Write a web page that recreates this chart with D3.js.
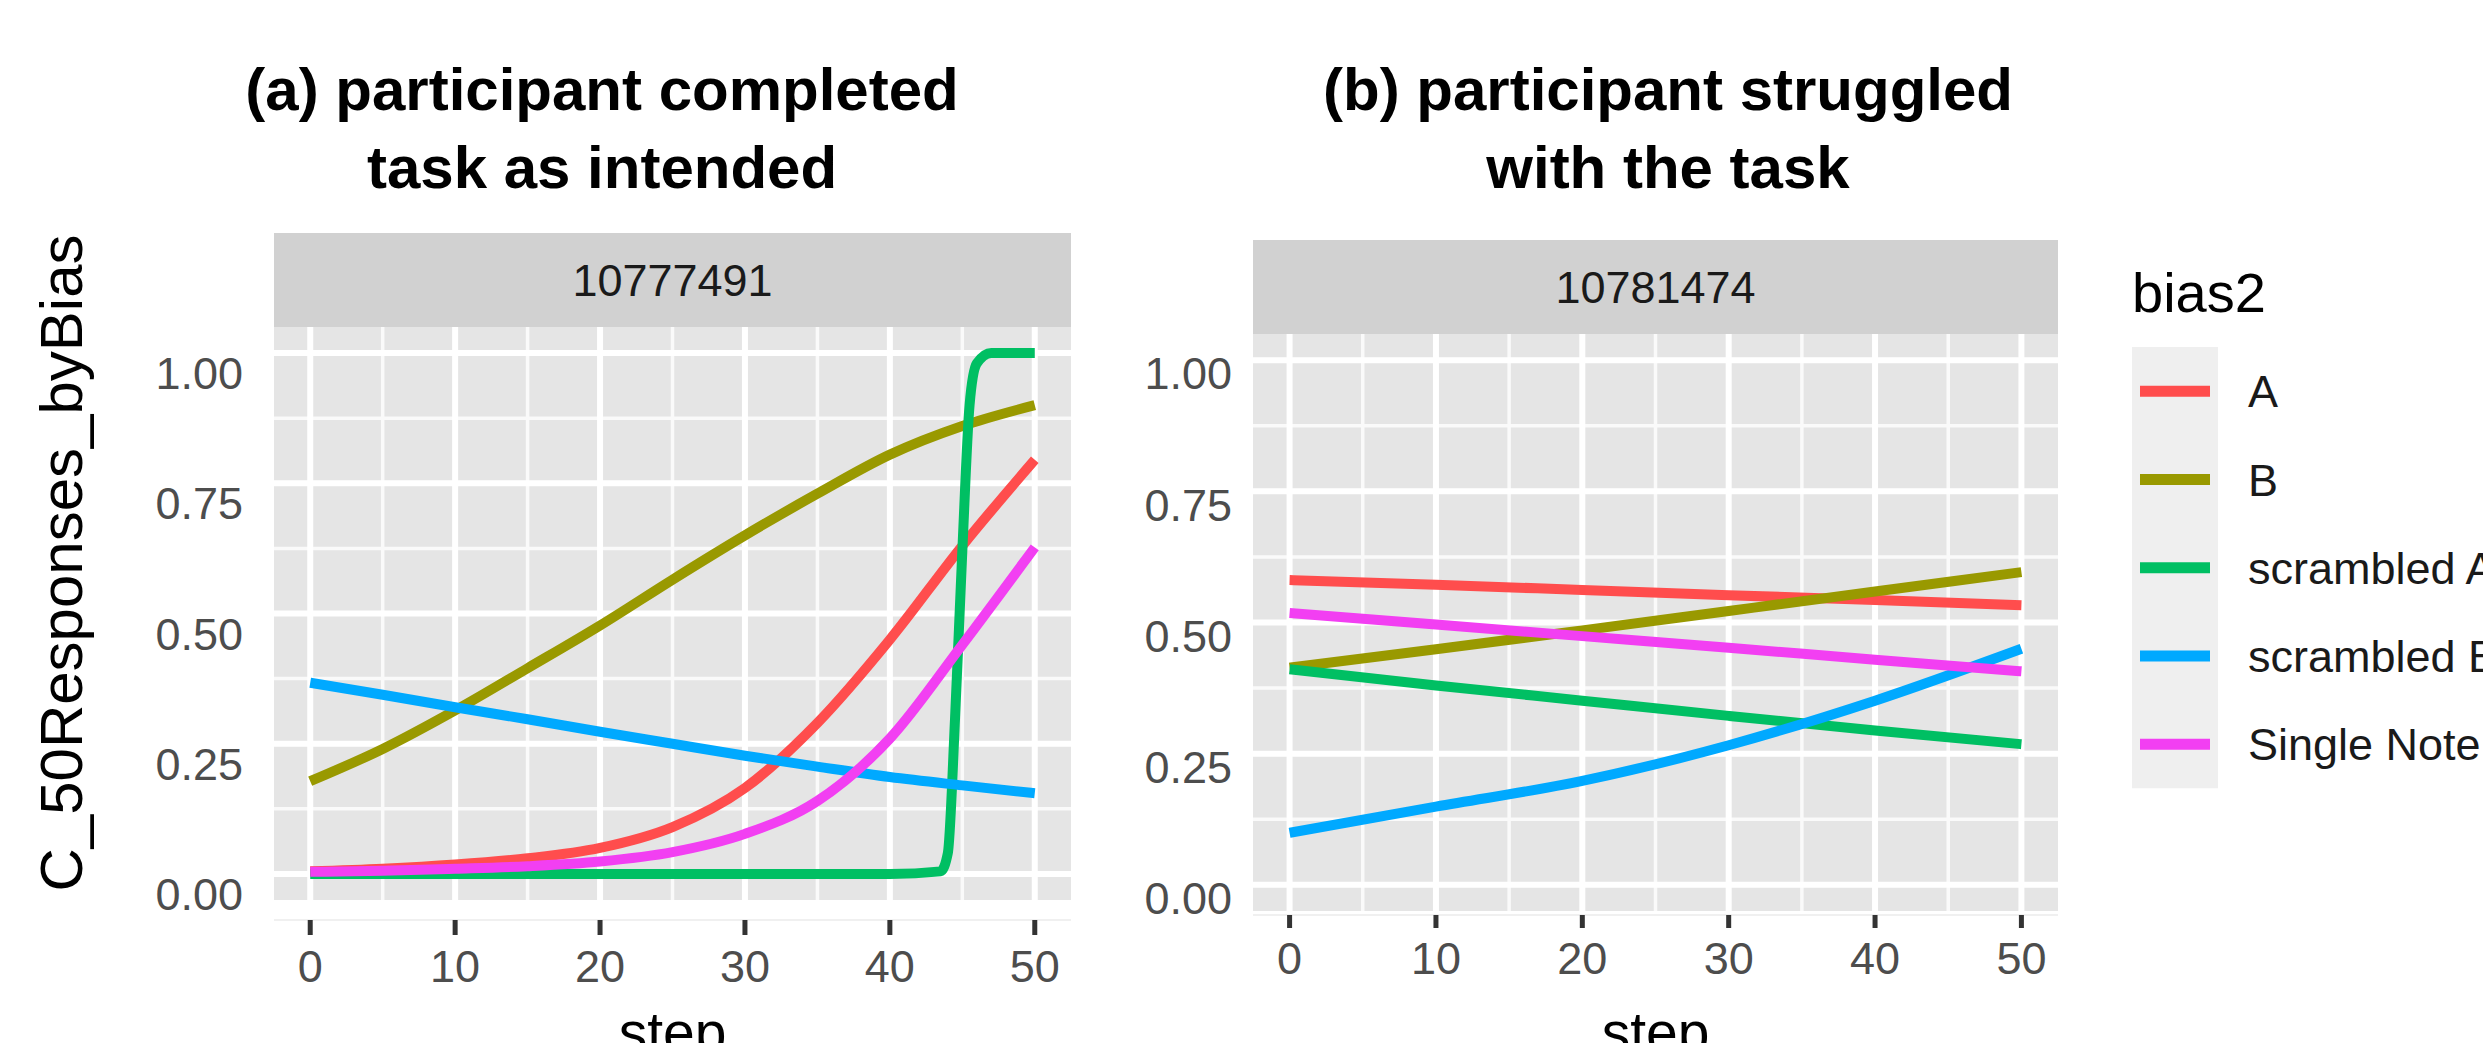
<!DOCTYPE html>
<html><head><meta charset="utf-8">
<script src="https://cdn.jsdelivr.net/npm/d3@7"></script>
<style>body{margin:0;background:#fff;} svg{display:block;}</style>
</head><body>
<svg id="chart" width="2483" height="1043"></svg>
<script>
// ---------- data ----------
const seriesNames = ["A", "B", "scrambled A", "scrambled B", "Single Note"];
const seriesColors = ["#ff4d4d", "#999900", "#00bf63", "#00a9ff", "#f23ff2"];
const xTicks = [0, 10, 20, 30, 40, 50];
const yTicks = [0, 0.25, 0.5, 0.75, 1];
const yTickLabels = ["0.00", "0.25", "0.50", "0.75", "1.00"];
const panelIds = ["10777491", "10781474"];
const titleA = ["(a) participant completed", "task as intended"];
const titleB = ["(b) participant struggled", "with the task"];
const xTitle = "step";
const yTitle = "C_50Responses_byBias";
const legendTitle = "bias2";

// panel (a) 10777491
const stepsA = [0, 5, 10, 15, 20, 25, 30, 35, 40, 45, 50];
const a_A  = [0.005, 0.010, 0.018, 0.030, 0.050, 0.090, 0.165, 0.290, 0.450, 0.630, 0.795];
const a_B  = [0.178, 0.240, 0.314, 0.395, 0.477, 0.565, 0.650, 0.730, 0.805, 0.860, 0.900];
const a_sB = [0.367, 0.344, 0.320, 0.297, 0.273, 0.250, 0.227, 0.206, 0.186, 0.170, 0.155];
const a_SN = [0.004, 0.006, 0.010, 0.015, 0.024, 0.042, 0.077, 0.140, 0.260, 0.440, 0.627];
const stepsA_sA = [0, 10, 20, 30, 40, 43.5, 44, 44.5, 45, 45.5, 46, 47, 50];
const a_sA = [0, 0, 0, 0, 0, 0.005, 0.04, 0.30, 0.62, 0.90, 0.98, 1.0, 1.0];

// panel (b) 10781474
const stepsB = [0, 10, 20, 30, 40, 50];
const b_A  = [0.581, 0.572, 0.562, 0.552, 0.543, 0.533];
const b_B  = [0.414, 0.449, 0.485, 0.522, 0.559, 0.596];
const b_sA = [0.411, 0.380, 0.351, 0.322, 0.294, 0.268];
const b_sB = [0.099, 0.149, 0.198, 0.266, 0.351, 0.450];
const b_SN = [0.518, 0.496, 0.474, 0.452, 0.429, 0.407];

// ---------- drawing ----------
const svg = d3.select("#chart");
const FONT = "'Liberation Sans', Arial, sans-serif";

const panels = [
  { id: panelIds[0], title: titleA, titleX: 602,
    left: 274, right: 1071, top: 327, bottom: 900, stripTop: 233,
    tickTop: 920, tickLen: 15, tickLabelY: 966, yLabelRight: 243, yLabelOff: 20,
    series: [
      { x: stepsA, y: a_A }, { x: stepsA, y: a_B }, { x: stepsA_sA, y: a_sA },
      { x: stepsA, y: a_sB }, { x: stepsA, y: a_SN }
    ] },
  { id: panelIds[1], title: titleB, titleX: 1668,
    left: 1253, right: 2058, top: 334, bottom: 911, stripTop: 240,
    tickTop: 915, tickLen: 13, tickLabelY: 958, yLabelRight: 1232, yLabelOff: 13,
    series: [
      { x: stepsB, y: b_A }, { x: stepsB, y: b_B }, { x: stepsB, y: b_sA },
      { x: stepsB, y: b_sB }, { x: stepsB, y: b_SN }
    ] }
];

panels.forEach(p => {
  const x = d3.scaleLinear().domain([-2.5, 52.5]).range([p.left, p.right]);
  const y = d3.scaleLinear().domain([-0.05, 1.05]).range([p.bottom, p.top]);
  const g = svg.append("g");

  // title
  p.title.forEach((t, i) => {
    svg.append("text").attr("x", p.titleX).attr("y", 110 + i * 78)
      .attr("text-anchor", "middle").attr("font-family", FONT)
      .attr("font-weight", "bold").attr("font-size", 60).attr("fill", "#000")
      .text(t);
  });

  // strip
  g.append("rect").attr("x", p.left).attr("y", p.stripTop)
    .attr("width", p.right - p.left).attr("height", p.top - p.stripTop)
    .attr("fill", "#d1d1d1");
  g.append("text").attr("x", (p.left + p.right) / 2).attr("y", (p.stripTop + p.top) / 2)
    .attr("dy", "0.36em").attr("text-anchor", "middle").attr("font-family", FONT)
    .attr("font-size", 45).attr("fill", "#1a1a1a").text(p.id);

  // panel background
  g.append("rect").attr("x", p.left).attr("y", p.top)
    .attr("width", p.right - p.left).attr("height", p.bottom - p.top)
    .attr("fill", "#e5e5e5");

  // minor grid
  const xMinor = xTicks.slice(0, -1).map(v => v + 5);
  const yMinor = yTicks.slice(0, -1).map(v => v + 0.125);
  g.selectAll(".xmin").data(xMinor).join("line")
    .attr("x1", d => x(d)).attr("x2", d => x(d)).attr("y1", p.top).attr("y2", p.bottom)
    .attr("stroke", "#fafafa").attr("stroke-width", 3.5);
  g.selectAll(".ymin").data(yMinor).join("line")
    .attr("y1", d => y(d)).attr("y2", d => y(d)).attr("x1", p.left).attr("x2", p.right)
    .attr("stroke", "#fafafa").attr("stroke-width", 3.5);
  // major grid
  g.selectAll(".xmaj").data(xTicks).join("line")
    .attr("x1", d => x(d)).attr("x2", d => x(d)).attr("y1", p.top).attr("y2", p.bottom)
    .attr("stroke", "#ffffff").attr("stroke-width", 6);
  g.selectAll(".ymaj").data(yTicks).join("line")
    .attr("y1", d => y(d)).attr("y2", d => y(d)).attr("x1", p.left).attr("x2", p.right)
    .attr("stroke", "#ffffff").attr("stroke-width", 6);

  // series lines
  const line = d3.line().curve(d3.curveMonotoneX);
  p.series.forEach((s, i) => {
    const pts = s.x.map((v, k) => [x(v), y(s.y[k])]);
    g.append("path").attr("d", line(pts)).attr("fill", "none")
      .attr("stroke", seriesColors[i]).attr("stroke-width", 10)
      .attr("stroke-linejoin", "round");
  });

  // faint axis line
  g.append("line").attr("x1", p.left).attr("x2", p.right)
    .attr("y1", p.tickTop).attr("y2", p.tickTop)
    .attr("stroke", "#f0f0f0").attr("stroke-width", 2);

  // x ticks
  g.selectAll(".xt").data(xTicks).join("line")
    .attr("x1", d => x(d)).attr("x2", d => x(d))
    .attr("y1", p.tickTop).attr("y2", p.tickTop + p.tickLen)
    .attr("stroke", "#333").attr("stroke-width", 5);
  g.selectAll(".xl").data(xTicks).join("text")
    .attr("x", d => x(d)).attr("y", p.tickLabelY).attr("dy", "0.36em")
    .attr("text-anchor", "middle").attr("font-family", FONT).attr("font-size", 45)
    .attr("fill", "#4d4d4d").text(d => d);

  // y labels
  g.selectAll(".yl").data(yTicks).join("text")
    .attr("x", p.yLabelRight).attr("y", d => y(d) + p.yLabelOff).attr("dy", "0.36em")
    .attr("text-anchor", "end").attr("font-family", FONT).attr("font-size", 45)
    .attr("fill", "#4d4d4d").text((d, i) => yTickLabels[i]);

  // x title
  g.append("text").attr("x", (p.left + p.right) / 2).attr("y", 1052)
    .attr("text-anchor", "middle").attr("font-family", FONT).attr("font-size", 57)
    .attr("fill", "#000").text(xTitle);
});

// y axis title
svg.append("text").attr("transform", "translate(82,563) rotate(-90)")
  .attr("text-anchor", "middle").attr("font-family", FONT).attr("font-size", 60)
  .attr("fill", "#000").text(yTitle);

// legend
const lg = svg.append("g");
lg.append("text").attr("x", 2132).attr("y", 312).attr("font-family", FONT)
  .attr("font-size", 56).attr("fill", "#000").text(legendTitle);
const keyH = 88.25, keyTop = 347;
lg.append("rect").attr("x", 2132).attr("y", keyTop).attr("width", 86)
  .attr("height", keyH * seriesNames.length).attr("fill", "#efefef");
seriesNames.forEach((n, i) => {
  const cy = keyTop + keyH * (i + 0.5);
  lg.append("line").attr("x1", 2140).attr("x2", 2210).attr("y1", cy).attr("y2", cy)
    .attr("stroke", seriesColors[i]).attr("stroke-width", 11);
  lg.append("text").attr("x", 2248).attr("y", cy).attr("dy", "0.36em")
    .attr("font-family", FONT).attr("font-size", 45).attr("fill", "#1a1a1a").text(n);
});
</script>
</body></html>
